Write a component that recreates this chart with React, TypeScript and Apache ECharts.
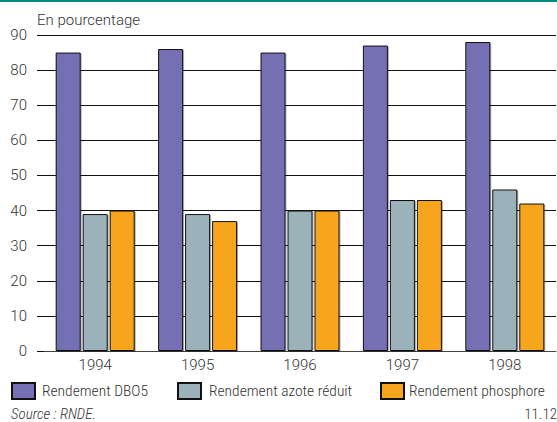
import React, { useEffect, useRef } from "react";
import * as echarts from "echarts";

const years = ["1994", "1995", "1996", "1997", "1998"];
const dbo5 = [85, 86, 85, 87, 88];
const azote = [39, 39, 40, 43, 46];
const phosphore = [40, 37, 40, 43, 42];
const seriesNames = ["Rendement DBO5", "Rendement azote réduit", "Rendement phosphore"];
const colors = ["#7470B3", "#9CB2BA", "#F7A51E"];

const FONT = '"Roboto Condensed"';
const NUM_FONT = "Roboto";

export default function App() {
  const ref = useRef<HTMLDivElement>(null);

  useEffect(() => {
    if (!ref.current) return;
    const chart = echarts.init(ref.current, null, { renderer: "svg" });
    const values = [dbo5, azote, phosphore];
    const legendLefts = [11, 177, 380];
    const legendTextPad = [2, 3, 0];

    chart.setOption({
      animation: false,
      backgroundColor: "#ffffff",
      textStyle: { fontFamily: FONT },
      grid: { left: 44, right: 1, top: 35, bottom: 71 },
      xAxis: {
        type: "category",
        data: years,
        axisLine: { show: true, lineStyle: { color: "#444", width: 1 } },
        axisTick: { show: false },
        axisLabel: { color: "#333", fontSize: 15, fontWeight: 300, margin: 6, fontFamily: NUM_FONT },
        splitLine: { show: false },
      },
      yAxis: {
        type: "value",
        min: 0,
        max: 90,
        interval: 10,
        axisLine: { show: false },
        axisTick: { show: true, length: 7, lineStyle: { color: "#111", width: 1 } },
        axisLabel: { color: "#333", fontSize: 15, fontWeight: 300, margin: 17, fontFamily: NUM_FONT },
        splitLine: { show: true, lineStyle: { color: "#111", width: 1 } },
      },
      legend: seriesNames.map((name, i) => ({
        data: [name],
        left: legendLefts[i],
        top: 382,
        itemWidth: 23,
        itemHeight: 16,
        padding: 0,
        icon: "rect",
        textStyle: {
          color: "#333",
          fontSize: 15.5,
          fontWeight: 300,
          fontFamily: FONT,
          padding: [0, 0, 0, legendTextPad[i]],
        },
        selectedMode: false,
      })),
      series: values.map((data, i) => ({
        type: "bar",
        name: seriesNames[i],
        data,
        barWidth: 25,
        barGap: "8%",
        itemStyle: {
          color: colors[i],
          borderColor: "#111",
          borderWidth: 1,
          shadowColor: "rgba(0,0,0,0.3)",
          shadowOffsetX: 1,
          shadowOffsetY: 1,
          shadowBlur: 1,
        },
      })),
      graphic: [
        { type: "rect", left: 0, top: 0, shape: { width: 557, height: 2 }, style: { fill: "#00877E" } },
        {
          type: "text",
          left: 37,
          top: 12,
          style: { text: "En pourcentage", fill: "#333", font: `300 15px ${NUM_FONT}` },
        },
        {
          type: "text",
          left: 11,
          top: 406,
          style: { text: "Source : RNDE.", fill: "#333", font: `italic 300 15px ${FONT}` },
        },
        {
          type: "text",
          right: 0,
          top: 406,
          style: { text: "11.12", fill: "#333", font: `300 15px ${FONT}` },
        },
      ],
    });

    return () => chart.dispose();
  }, []);

  return (
    <div
      ref={ref}
      style={{ position: "fixed", left: 0, top: 0, width: 557, height: 422 }}
    />
  );
}
